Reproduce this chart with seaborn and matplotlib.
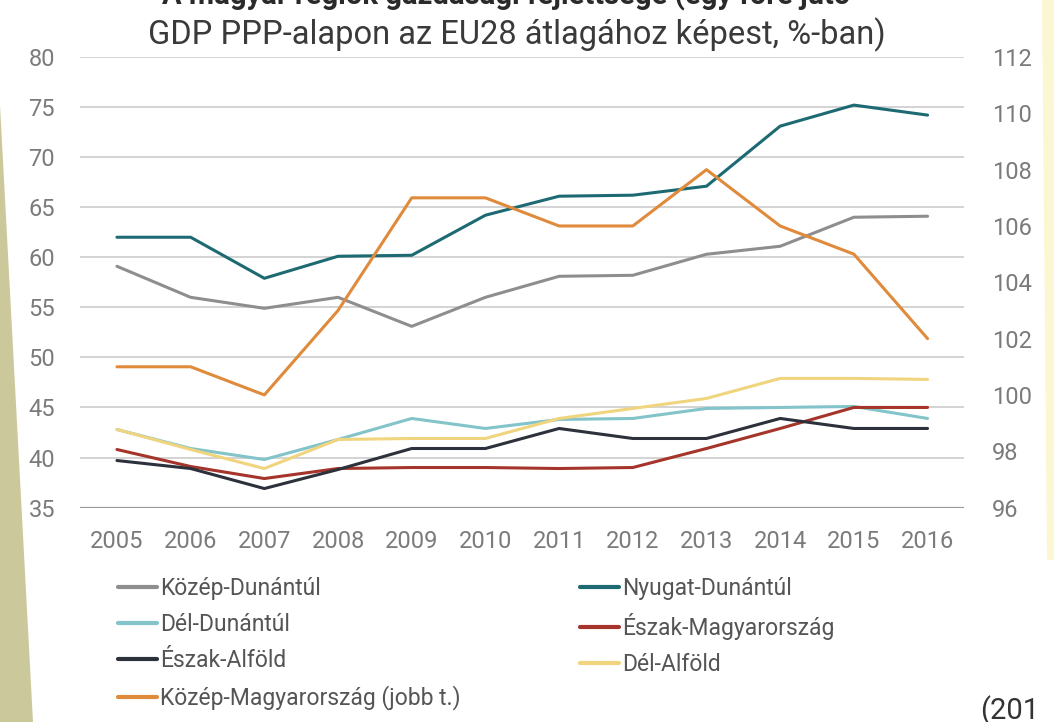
import pandas as pd
import matplotlib
matplotlib.use("Agg")
import matplotlib.pyplot as plt
import seaborn as sns
from matplotlib.patches import Polygon
from matplotlib.lines import Line2D

# values (% of EU28 average, GDP per capita in PPS)
years = [2005, 2006, 2007, 2008, 2009, 2010, 2011, 2012, 2013, 2014, 2015, 2016]
kozep_dunantul = [59.1, 56.0, 54.9, 56.0, 53.1, 56.0, 58.1, 58.2, 60.3, 61.1, 64.0, 64.1]
nyugat_dunantul = [62.0, 62.0, 57.9, 60.1, 60.2, 64.2, 66.1, 66.2, 67.1, 73.1, 75.2, 74.2]
del_dunantul = [42.8, 40.9, 39.8, 41.8, 43.9, 42.9, 43.8, 43.9, 44.9, 45.0, 45.1, 43.9]
eszak_magyarorszag = [40.8, 39.1, 37.9, 38.9, 39.0, 39.0, 38.9, 39.0, 40.9, 42.9, 45.0, 45.0]
eszak_alfold = [39.7, 38.9, 36.9, 38.8, 40.9, 40.9, 42.9, 41.9, 41.9, 43.9, 42.9, 42.9]
del_alfold = [42.8, 40.8, 38.9, 41.8, 41.9, 41.9, 43.9, 44.9, 45.9, 47.9, 47.9, 47.8]
# right axis
kozep_magyarorszag = [101.0, 101.0, 100.0, 103.0, 107.0, 107.0, 106.0, 106.0, 108.0, 106.0, 105.0, 102.0]

left_ticks = [35, 40, 45, 50, 55, 60, 65, 70, 75, 80]
right_ticks = [96, 98, 100, 102, 104, 106, 108, 110, 112]

colors = {
    "Közép-Dunántúl": "#8e8e8e",
    "Dél-Dunántúl": "#82c4c9",
    "Észak-Alföld": "#2c313c",
    "Közép-Magyarország (jobb t.)": "#e08a3c",
    "Nyugat-Dunántúl": "#1d6a72",
    "Észak-Magyarország": "#a5342a",
    "Dél-Alföld": "#f1d47e",
}

left_series = {
    "Közép-Dunántúl": kozep_dunantul,
    "Nyugat-Dunántúl": nyugat_dunantul,
    "Dél-Dunántúl": del_dunantul,
    "Észak-Magyarország": eszak_magyarorszag,
    "Észak-Alföld": eszak_alfold,
    "Dél-Alföld": del_alfold,
}

idx = list(range(len(years)))
left_df = pd.DataFrame(left_series)
left_df["idx"] = idx
left_long = left_df.melt(id_vars="idx", var_name="region", value_name="value")
right_df = pd.DataFrame({"idx": idx, "value": kozep_magyarorszag})

sns.set_theme(style="white")
plt.rcParams["font.family"] = ["Roboto", "DejaVu Sans"]

tick_col = "#7b7b7b"
fig = plt.figure(figsize=(10.54, 7.22), dpi=100)
fig.patch.set_facecolor("white")

ax = fig.add_axes([0.076, 0.297, 0.839, 0.624])
ax2 = ax.twinx()

sns.lineplot(data=left_long, x="idx", y="value", hue="region", palette=colors,
             linewidth=2.2, legend=False, ax=ax)
sns.lineplot(data=right_df, x="idx", y="value", color=colors["Közép-Magyarország (jobb t.)"],
             linewidth=2.2, ax=ax2)

ax.set_xlim(-0.5, len(years) - 0.5)
ax.set_ylim(35, 80)
ax2.set_ylim(96, 112)
ax.set_yticks(left_ticks)
ax2.set_yticks(right_ticks)
ax.set_xticks(idx)
ax.set_xticklabels([str(y) for y in years])
ax.set_xlabel("")
ax.set_ylabel("")
ax2.set_ylabel("")

ax.yaxis.grid(True, color="#d0d0d0", linewidth=1.3)
ax.set_axisbelow(True)
for a in (ax, ax2):
    for s in ["top", "right", "left", "bottom"]:
        a.spines[s].set_visible(False)
ax.axhline(35, color="#9a9a9a", linewidth=1.6, zorder=1)

ax.tick_params(axis="y", length=0, pad=18, labelsize=17, labelcolor=tick_col)
ax2.tick_params(axis="y", length=0, pad=20, labelsize=17, labelcolor=tick_col)
ax.tick_params(axis="x", length=0, pad=16, labelsize=17, labelcolor=tick_col)

# title (first line cut off at the top edge as in the photo)
fig.text(0.48, 1.005, "A magyar régiók gazdasági fejlettsége (egy főre jutó",
         ha="center", va="center", fontsize=21, fontweight="bold", color="#2a2a2a")
fig.text(0.49, 0.952, "GDP PPP-alapon az EU28 átlagához képest, %-ban)",
         ha="center", va="center", fontsize=23.5, color="#3a3a3a")

order = ["Közép-Dunántúl", "Dél-Dunántúl", "Észak-Alföld", "Közép-Magyarország (jobb t.)",
         "Nyugat-Dunántúl", "Észak-Magyarország", "Dél-Alföld"]
handles = [Line2D([], [], color=colors[k], linewidth=3) for k in order]
fig.legend(handles, order, loc="upper left", bbox_to_anchor=(0.092, 0.23),
           ncol=2, frameon=False, fontsize=16.5, handlelength=1.7, handletextpad=0.15,
           columnspacing=5.2, labelspacing=0.58, labelcolor="#555555")

# photo edges: khaki strip on the left, light strip on the right, footnote
fig.patches.append(Polygon([(0, 1 - 105 / 722), (33 / 1054, 0), (0, 0)], closed=True,
                           transform=fig.transFigure, facecolor="#cbc99b", edgecolor="none"))
fig.patches.append(Polygon([(1042 / 1054, 1), (1, 1), (1, 1 - 560 / 722), (1047 / 1054, 1 - 560 / 722)],
                           closed=True, transform=fig.transFigure, facecolor="#fbf7d2", edgecolor="none"))
fig.text(0.93, -0.005, "(201", ha="left", va="bottom", fontsize=21, color="#333333")

fig.savefig("out.png", dpi=100)
